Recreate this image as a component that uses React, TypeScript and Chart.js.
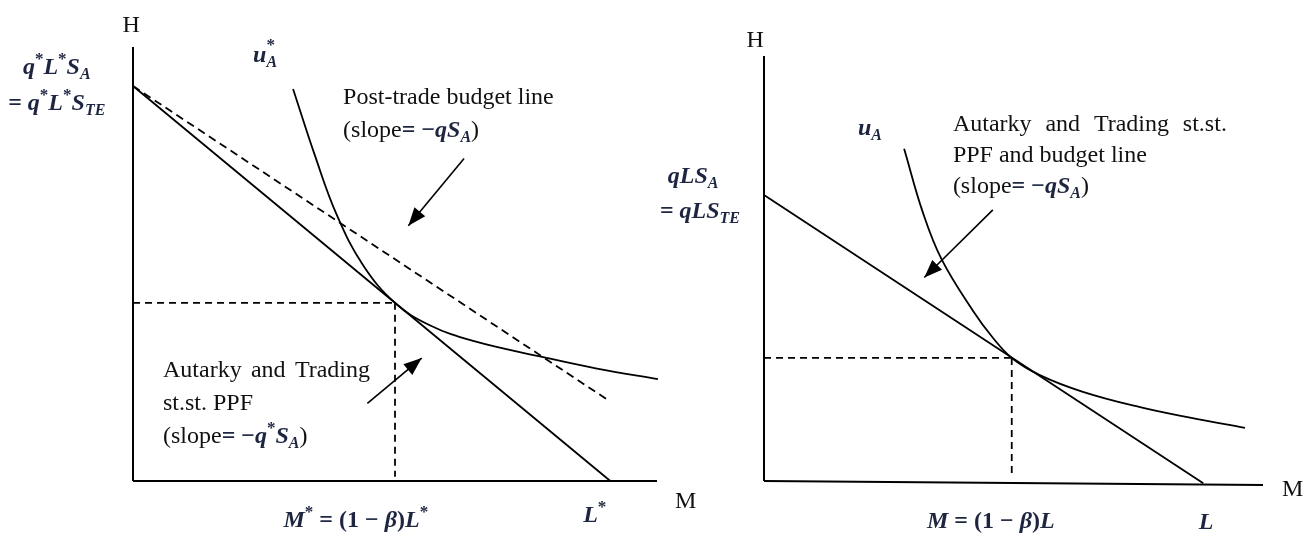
import { useEffect, useRef } from "react";
import { Chart, registerables } from "chart.js";

Chart.register(...registerables);

type Pt = { x: number; y: number };
const P = (x: number, y: number): Pt => ({ x, y });

// ---- Left panel: the starred (post-trade) economy ----
const leftAxisY: Pt[] = [P(0, 0), P(0, 91.1)];
const leftAxisX: Pt[] = [P(0, 0), P(110, 0)];
const leftPPF: Pt[] = [P(0, 82.9), P(100.2, 0)];
const leftBudget: Pt[] = [P(0, 82.9), P(99.4, 17.2)];
const leftIndifference: Pt[] = [
  P(33.6, 82.3), P(38.2, 68.3), P(42.8, 55.8), P(48.3, 45.3), P(55.0, 37.4),
  P(62.3, 32.7), P(71.4, 29.4), P(86.1, 26.0), P(97.4, 23.6), P(110.2, 21.4),
];
const leftGuideH: Pt[] = [P(0, 37.4), P(55.0, 37.4)];
const leftGuideV: Pt[] = [P(55.0, 37.4), P(55.0, 0.9)];
const leftArrows: Pt[][] = [
  [P(69.5, 67.7), P(57.8, 53.6)],
  [P(49.2, 16.3), P(60.6, 25.8)],
];

// ---- Right panel: the home economy ----
const rightAxisY: Pt[] = [P(0, 0), P(0, 96.7)];
const rightAxisX: Pt[] = [P(0, 0), P(113.6, -0.9)];
const rightPPF: Pt[] = [P(0, 65.1), P(100, -0.5)];
const rightIndifference: Pt[] = [
  P(31.9, 75.6), P(36.2, 61.0), P(40.5, 50.3), P(47.6, 38.7), P(52.1, 32.6),
  P(56.4, 28.0), P(62.8, 24.1), P(72.6, 20.3), P(85.6, 16.8), P(97.0, 14.4),
  P(109.5, 12.1),
];
const rightGuideH: Pt[] = [P(0, 28.0), P(56.4, 28.0)];
const rightGuideV: Pt[] = [P(56.4, 28.0), P(56.4, 0.7)];
const rightArrows: Pt[][] = [[P(52.1, 61.7), P(36.5, 46.3)]];

// Segment kinds: r = roman text, m = math italic, o = bold operator,
// b = math subscript, p = math superscript, q = superscript without advance
type Seg = [string, string];
type Label = { x: number; y: number; segs: Seg[]; align?: "center"; justify?: number };

const leftLabels: Label[] = [
  { x: -0.4, y: 94.2, align: "center", segs: [["H", "r"]] },
  { x: 113.8, y: -5.7, segs: [["M", "r"]] },
  { x: 25.2, y: 88.0, segs: [["u", "m"], ["*", "q"], ["A", "b"]] },
  { x: -23.1, y: 85.4, segs: [["q", "m"], ["*", "p"], ["L", "m"], ["*", "p"], ["S", "m"], ["A", "b"]] },
  { x: -26.2, y: 77.9, segs: [["= ", "o"], ["q", "m"], ["*", "p"], ["L", "m"], ["*", "p"], ["S", "m"], ["TE", "b"]] },
  { x: 44.1, y: 79.1, segs: [["Post-trade budget line", "r"]] },
  { x: 44.1, y: 72.2, segs: [["(slope", "r"], ["=", "o"], [" ", "r"], ["\u2212", "o"], ["q", "m"], ["S", "m"], ["A", "b"], [")", "r"]] },
  { x: 6.3, y: 21.8, justify: 207, segs: [["Autarky and Trading", "r"]] },
  { x: 6.3, y: 14.9, segs: [["st.st. PPF", "r"]] },
  { x: 6.3, y: 8.0, segs: [["(slope", "r"], ["=", "o"], [" ", "r"], ["\u2212", "o"], ["q", "m"], ["*", "p"], ["S", "m"], ["A", "b"], [")", "r"]] },
  { x: 31.6, y: -9.7, segs: [["M", "m"], ["*", "p"], [" = (1 \u2212 ", "o"], ["\u03b2", "m"], [")", "o"], ["L", "m"], ["*", "p"]] },
  { x: 94.5, y: -8.6, segs: [["L", "m"], ["*", "p"]] },
];

const rightLabels: Label[] = [
  { x: -2.0, y: 98.8, align: "center", segs: [["H", "r"]] },
  { x: 117.9, y: -3.4, segs: [["M", "r"]] },
  { x: 21.4, y: 78.8, segs: [["u", "m"], ["A", "b"]] },
  { x: -21.9, y: 67.8, segs: [["q", "m"], ["L", "m"], ["S", "m"], ["A", "b"]] },
  { x: -23.7, y: 59.9, segs: [["= ", "o"], ["q", "m"], ["L", "m"], ["S", "m"], ["TE", "b"]] },
  { x: 43.0, y: 79.7, justify: 274, segs: [["Autarky and Trading st.st.", "r"]] },
  { x: 43.0, y: 72.6, segs: [["PPF and budget line", "r"]] },
  { x: 43.0, y: 65.6, segs: [["(slope", "r"], ["=", "o"], [" ", "r"], ["\u2212", "o"], ["q", "m"], ["S", "m"], ["A", "b"], [")", "r"]] },
  { x: 37.1, y: -10.7, segs: [["M", "m"], [" = (1 \u2212 ", "o"], ["\u03b2", "m"], [")", "o"], ["L", "m"]] },
  { x: 99.0, y: -10.9, segs: [["L", "m"]] },
];

const INK = "#000000";
const MATH_INK = "#1d2540";
const FAMILY = '"Liberation Serif", "Times New Roman", serif';

function segStyle(kind: string) {
  switch (kind) {
    case "m": return { font: `italic bold 24px ${FAMILY}`, color: MATH_INK, dy: 0, adv: true };
    case "o": return { font: `bold 24px ${FAMILY}`, color: MATH_INK, dy: 0, adv: true };
    case "b": return { font: `italic bold 16px ${FAMILY}`, color: MATH_INK, dy: 5, adv: true };
    case "p": return { font: `bold 17px ${FAMILY}`, color: MATH_INK, dy: -10, adv: true };
    case "q": return { font: `bold 17px ${FAMILY}`, color: MATH_INK, dy: -12, adv: false };
    default: return { font: `24px ${FAMILY}`, color: "#111111", dy: 0, adv: true };
  }
}

function drawLabel(ctx: CanvasRenderingContext2D, px: number, py: number, lab: Label) {
  ctx.save();
  ctx.textBaseline = "alphabetic";
  ctx.textAlign = "left";
  if (lab.justify && lab.segs.length === 1) {
    const st = segStyle(lab.segs[0][1]);
    ctx.font = st.font;
    ctx.fillStyle = st.color;
    const words = lab.segs[0][0].split(" ");
    const widths = words.map((w) => ctx.measureText(w).width);
    const total = widths.reduce((a, b) => a + b, 0);
    const gap = (lab.justify - total) / Math.max(1, words.length - 1);
    let cx = px;
    words.forEach((w, i) => {
      ctx.fillText(w, cx, py);
      cx += widths[i] + gap;
    });
    ctx.restore();
    return;
  }
  let width = 0;
  lab.segs.forEach(([t, k]) => {
    const st = segStyle(k);
    ctx.font = st.font;
    if (st.adv) width += ctx.measureText(t).width;
  });
  let cx = lab.align === "center" ? px - width / 2 : px;
  lab.segs.forEach(([t, k]) => {
    const st = segStyle(k);
    ctx.font = st.font;
    ctx.fillStyle = st.color;
    ctx.fillText(t, cx, py + st.dy);
    if (st.adv) cx += ctx.measureText(t).width;
  });
  ctx.restore();
}

function diagramPlugin(labels: Label[], arrows: Pt[][]) {
  return {
    id: "diagramDecor",
    afterDatasetsDraw(chart: Chart) {
      const { ctx } = chart;
      const xs = chart.scales.x;
      const ys = chart.scales.y;
      // arrow heads at the tip of each pointer
      arrows.forEach(([from, to]) => {
        const x0 = xs.getPixelForValue(from.x);
        const y0 = ys.getPixelForValue(from.y);
        const x1 = xs.getPixelForValue(to.x);
        const y1 = ys.getPixelForValue(to.y);
        const ang = Math.atan2(y1 - y0, x1 - x0);
        const len = 18;
        const half = 7;
        const bx = x1 - len * Math.cos(ang);
        const by = y1 - len * Math.sin(ang);
        ctx.save();
        ctx.fillStyle = INK;
        ctx.beginPath();
        ctx.moveTo(x1, y1);
        ctx.lineTo(bx + half * Math.sin(ang), by - half * Math.cos(ang));
        ctx.lineTo(bx - half * Math.sin(ang), by + half * Math.cos(ang));
        ctx.closePath();
        ctx.fill();
        ctx.restore();
      });
      labels.forEach((lab) => {
        drawLabel(ctx, xs.getPixelForValue(lab.x), ys.getPixelForValue(lab.y), lab);
      });
    },
  };
}

function lineSet(data: Pt[], extra: Record<string, unknown> = {}) {
  return {
    data,
    borderColor: INK,
    borderWidth: 1.8,
    pointRadius: 0,
    showLine: true,
    fill: false,
    clip: false,
    tension: 0,
    ...extra,
  };
}

type PanelSpec = {
  datasets: any[];
  xMax: number;
  yMax: number;
  padding: { left: number; right: number; top: number; bottom: number };
  labels: Label[];
  arrows: Pt[][];
};

function makeChart(canvas: HTMLCanvasElement, spec: PanelSpec) {
  return new Chart(canvas, {
    type: "scatter",
    data: { datasets: spec.datasets },
    options: {
      responsive: false,
      animation: false,
      devicePixelRatio: 1,
      events: [],
      layout: { padding: spec.padding },
      scales: {
        x: { type: "linear", min: 0, max: spec.xMax, display: false },
        y: { type: "linear", min: 0, max: spec.yMax, display: false },
      },
      plugins: { legend: { display: false }, tooltip: { enabled: false } },
    },
    plugins: [diagramPlugin(spec.labels, spec.arrows)],
  });
}

export default function App() {
  const leftRef = useRef<HTMLCanvasElement>(null);
  const rightRef = useRef<HTMLCanvasElement>(null);

  useEffect(() => {
    if (!leftRef.current || !rightRef.current) return;
    const dashed = { borderDash: [8, 5] };
    const guide = { borderDash: [7, 5] };
    const curve = { tension: 0.4 };
    const axis = { borderWidth: 2 };

    const left = makeChart(leftRef.current, {
      xMax: 110,
      yMax: 91.1,
      padding: { left: 133, right: 43, top: 47, bottom: 52 },
      labels: leftLabels,
      arrows: leftArrows,
      datasets: [
        lineSet(leftAxisY, axis),
        lineSet(leftAxisX, axis),
        lineSet(leftPPF),
        lineSet(leftBudget, dashed),
        lineSet(leftIndifference, curve),
        lineSet(leftGuideH, guide),
        lineSet(leftGuideV, guide),
        ...leftArrows.map((a) => lineSet(a, { borderWidth: 1.6 })),
      ],
    });

    const right = makeChart(rightRef.current, {
      xMax: 113.6,
      yMax: 96.7,
      padding: { left: 124, right: 49, top: 56, bottom: 52 },
      labels: rightLabels,
      arrows: rightArrows,
      datasets: [
        lineSet(rightAxisY, axis),
        lineSet(rightAxisX, axis),
        lineSet(rightPPF),
        lineSet(rightIndifference, curve),
        lineSet(rightGuideH, guide),
        lineSet(rightGuideV, guide),
        ...rightArrows.map((a) => lineSet(a, { borderWidth: 1.6 })),
      ],
    });

    return () => {
      left.destroy();
      right.destroy();
    };
  }, []);

  return (
    <div
      style={{
        position: "fixed",
        left: 0,
        top: 0,
        width: 1312,
        height: 533,
        background: "#ffffff",
        overflow: "hidden",
      }}
    >
      <canvas
        ref={leftRef}
        width={700}
        height={533}
        style={{ position: "absolute", left: 0, top: 0, width: 700, height: 533 }}
      />
      <canvas
        ref={rightRef}
        width={672}
        height={533}
        style={{ position: "absolute", left: 640, top: 0, width: 672, height: 533 }}
      />
    </div>
  );
}
